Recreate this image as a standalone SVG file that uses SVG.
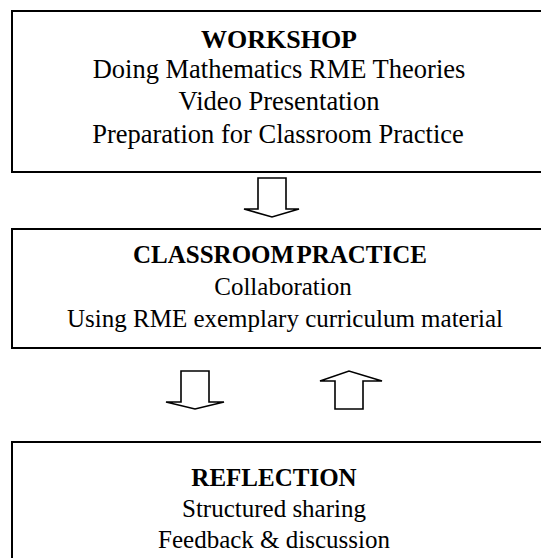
<svg xmlns="http://www.w3.org/2000/svg" width="541" height="558" viewBox="0 0 541 558">
<style>
.box{fill:#fff;stroke:#000;stroke-width:2}
.arr{fill:#fff;stroke:#000;stroke-width:1.6;stroke-linejoin:miter}
.t{font-family:'Liberation Serif','Times New Roman','DejaVu Serif',serif;font-size:25px;fill:#000;text-anchor:middle}
.b1{font-size:26.5px}
.h{font-weight:bold}
</style>
<rect width="541" height="558" fill="#fff"/>
<g id="workshop">
<rect class="box" x="12" y="11" width="560" height="161"/>
<text class="t h" x="279" y="48" style="font-size:26px">WORKSHOP</text>
<text class="t b1" x="279" y="78">Doing Mathematics RME Theories</text>
<text class="t b1" x="279" y="110">Video Presentation</text>
<text class="t b1" x="278" y="143">Preparation for Classroom Practice</text>
</g>
<g id="classroom">
<rect class="box" x="12" y="229" width="560" height="119"/>
<text class="t h" x="280" y="263" word-spacing="-4">CLASSROOM PRACTICE</text>
<text class="t" x="283" y="295">Collaboration</text>
<text class="t" x="285" y="327">Using RME exemplary curriculum material</text>
</g>
<g id="reflection">
<rect class="box" x="12" y="442" width="560" height="140"/>
<text class="t h" x="274" y="486">REFLECTION</text>
<text class="t" x="274" y="517">Structured sharing</text>
<text class="t" x="274" y="548">Feedback &amp; discussion</text>
</g>
<g id="connectors">
<polygon class="arr" points="258,178 286,178 286,209 299,209 272,217 244,209 258,209"/>
<polygon class="arr" points="181,371 209,371 209,402 224,402 195,409 166,402 181,402"/>
<polygon class="arr" points="335,409 363,409 363,381 382,381 349,371 320,381 335,381"/>
</g>
</svg>
